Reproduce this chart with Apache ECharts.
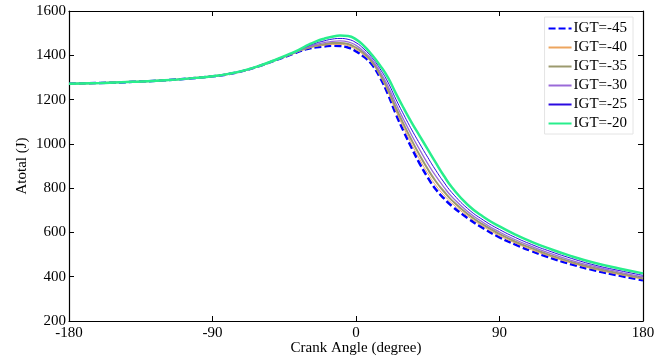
<!DOCTYPE html>
<html>
<head>
<meta charset="utf-8">
<script src="https://cdn.jsdelivr.net/npm/echarts@6/dist/echarts.min.js"></script>
<style>
  html, body { margin: 0; padding: 0; background: #fff; }
</style>
</head>
<body>
<div id="chart" style="width: 666px; height: 358px;"></div>
<script>
// crank angle (degree)
const crankAngle = [-180, -160, -140, -120, -100, -90, -80, -70, -60, -50, -40, -35, -30, -25, -20, -15, -10, -5, 0, 5,
    10, 15, 20, 25, 30, 35, 40, 45, 50, 55, 60, 70, 80, 90, 100, 110, 120, 135, 150, 165, 180];

// Atotal (J) for each ignition timing
const igt45 = [1272, 1275, 1280, 1287, 1298, 1305, 1315, 1331, 1353, 1379, 1405, 1419, 1429, 1436, 1440, 1443, 1442, 1435, 1418, 1393,
    1358, 1300, 1225, 1135, 1055, 980, 910, 848, 795, 755, 720, 665, 618, 578, 545, 516, 490, 456, 428, 405, 384];
const igt40 = [1272, 1275, 1280, 1287, 1298, 1305, 1315, 1331, 1353, 1379, 1406, 1420, 1432, 1440, 1445, 1449, 1449, 1443, 1426, 1400,
    1365, 1308, 1236, 1149, 1071, 997, 929, 867, 813, 770, 733, 674, 626, 585, 552, 522, 496, 462, 433, 410, 389];
const igt35 = [1272, 1275, 1280, 1287, 1298, 1305, 1315, 1331, 1353, 1380, 1407, 1422, 1434, 1444, 1450, 1455, 1456, 1451, 1434, 1408,
    1371, 1317, 1248, 1163, 1087, 1015, 948, 886, 831, 786, 746, 683, 634, 593, 558, 529, 502, 467, 438, 415, 393];
const igt30 = [1272, 1275, 1280, 1287, 1298, 1305, 1315, 1331, 1353, 1380, 1408, 1423, 1438, 1449, 1457, 1463, 1465, 1461, 1445, 1417,
    1380, 1328, 1262, 1182, 1108, 1038, 973, 911, 855, 806, 762, 695, 644, 602, 567, 537, 510, 474, 445, 421, 399];
const igt25 = [1272, 1275, 1280, 1287, 1298, 1305, 1316, 1332, 1354, 1380, 1409, 1425, 1442, 1455, 1465, 1473, 1476, 1472, 1457, 1428,
    1390, 1340, 1279, 1202, 1131, 1063, 1000, 939, 881, 828, 781, 708, 655, 613, 577, 546, 519, 483, 452, 428, 406];
const igt20 = [1271, 1275, 1280, 1287, 1298, 1305, 1316, 1332, 1354, 1381, 1411, 1428, 1447, 1463, 1475, 1484, 1489, 1487, 1472, 1442,
    1402, 1355, 1300, 1228, 1160, 1095, 1035, 975, 915, 857, 805, 725, 670, 627, 590, 558, 530, 493, 462, 437, 415];

const seriesNames = ['IGT=-45', 'IGT=-40', 'IGT=-35', 'IGT=-30', 'IGT=-25', 'IGT=-20'];
const seriesData = [igt45, igt40, igt35, igt30, igt25, igt20];
const seriesColors = ['#0000ff', '#eda55e', '#9c9a6e', '#9a6ad8', '#2a0ae0', '#28ee8c'];
const seriesWidths = [2.5, 1, 2, 1.3, 1, 2.5];

const font = "'Times New Roman', 'Liberation Serif', serif";

const chart = echarts.init(document.getElementById('chart'));

const series = seriesNames.map((name, i) => ({
    name: name,
    type: 'line',
    xAxisIndex: 0,
    yAxisIndex: 0,
    data: crankAngle.map((x, j) => [x, seriesData[i][j]]),
    symbol: 'none',
    smooth: 0.5,
    lineStyle: {
        color: seriesColors[i],
        width: seriesWidths[i],
        type: i === 0 ? [7, 3] : 'solid'
    },
    itemStyle: { color: seriesColors[i] }
}));

const axisCommon = {
    axisLine: { show: true, onZero: false, lineStyle: { color: '#000', width: 1.2 } },
    axisTick: { show: true, inside: true, length: 5, lineStyle: { color: '#000' } },
    splitLine: { show: false }
};

chart.setOption({
    animation: false,
    backgroundColor: '#fff',
    textStyle: { fontFamily: font },
    grid: { left: 69, right: 23, top: 11, bottom: 37, outerBoundsMode: 'none' },
    legend: {
        orient: 'vertical',
        right: 33,
        top: 17,
        padding: [4, 6, 3, 3],
        itemWidth: 23,
        itemHeight: 14,
        itemGap: 4,
        backgroundColor: '#fff',
        borderColor: '#e4e4e4',
        borderWidth: 1,
        itemStyle: { color: 'rgba(0,0,0,0)', borderColor: 'rgba(0,0,0,0)', borderWidth: 0 },
        textStyle: { fontFamily: font, fontSize: 15, color: '#000', padding: [0, 0, 0, -3] },
        data: seriesNames
    },
    xAxis: [
        {
            type: 'value',
            min: -180,
            max: 180,
            interval: 90,
            name: 'Crank Angle (degree)',
            nameLocation: 'middle',
            nameGap: 20,
            nameMoveOverlap: false,
            nameTextStyle: { fontFamily: font, fontSize: 15, color: '#000' },
            axisLabel: { fontFamily: font, fontSize: 15, color: '#000', margin: 5 },
            ...axisCommon
        },
        {
            type: 'value',
            position: 'top',
            min: -180,
            max: 180,
            interval: 90,
            axisLabel: { show: false },
            ...axisCommon
        }
    ],
    yAxis: [
        {
            type: 'value',
            min: 200,
            max: 1600,
            interval: 200,
            name: 'Atotal (J)',
            nameLocation: 'middle',
            nameGap: 39,
            nameMoveOverlap: false,
            nameTextStyle: { fontFamily: font, fontSize: 15, color: '#000' },
            axisLabel: { fontFamily: font, fontSize: 15, color: '#000', margin: 3, formatter: (v) => String(v) },
            ...axisCommon
        },
        {
            type: 'value',
            position: 'right',
            min: 200,
            max: 1600,
            interval: 200,
            axisLabel: { show: false },
            ...axisCommon
        }
    ],
    series: series
});
</script>
</body>
</html>
